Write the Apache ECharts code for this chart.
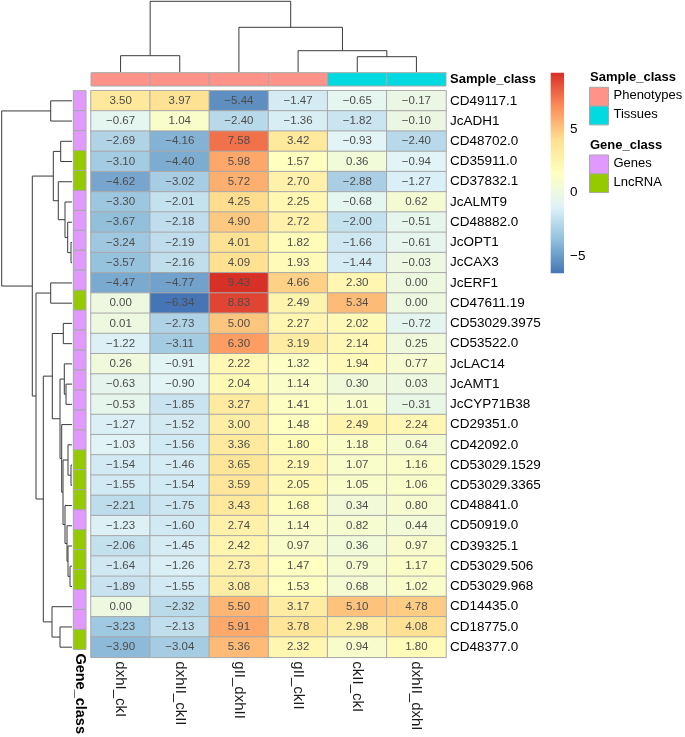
<!DOCTYPE html>
<html><head><meta charset="utf-8">
<script src="https://cdn.jsdelivr.net/npm/echarts@6/dist/echarts.min.js"></script>
<style>html,body{margin:0;padding:0;background:#fff}#c{width:685px;height:737px}</style>
</head><body><div id="c"></div>
<script>
// ---------- data ----------
const columns = ['dxhI_ckI','dxhII_ckII','gII_dxhII','gII_ckII','ckII_ckI','dxhII_dxhI'];
const sampleClass = ['Phenotypes','Phenotypes','Phenotypes','Phenotypes','Tissues','Tissues'];
const rows = ['CD49117.1','JcADH1','CD48702.0','CD35911.0','CD37832.1','JcALMT9','CD48882.0','JcOPT1','JcCAX3','JcERF1','CD47611.19','CD53029.3975','CD53522.0','JcLAC14','JcAMT1','JcCYP71B38','CD29351.0','CD42092.0','CD53029.1529','CD53029.3365','CD48841.0','CD50919.0','CD39325.1','CD53029.506','CD53029.968','CD14435.0','CD18775.0','CD48377.0'];
const geneClass = ['Genes','Genes','Genes','LncRNA','LncRNA','Genes','Genes','Genes','Genes','Genes','LncRNA','Genes','Genes','Genes','Genes','Genes','Genes','Genes','LncRNA','LncRNA','LncRNA','Genes','LncRNA','LncRNA','LncRNA','Genes','Genes','LncRNA'];

const dxhI_ckI   = [3.50,-0.67,-2.69,-3.10,-4.62,-3.30,-3.67,-3.24,-3.57,-4.47,0.00,0.01,-1.22,0.26,-0.63,-0.53,-1.27,-1.03,-1.54,-1.55,-2.21,-1.23,-2.06,-1.64,-1.89,0.00,-3.23,-3.90];
const dxhII_ckII = [3.97,1.04,-4.16,-4.40,-3.02,-2.01,-2.18,-2.19,-2.16,-4.77,-6.34,-2.73,-3.11,-0.91,-0.90,-1.85,-1.52,-1.56,-1.46,-1.54,-1.75,-1.60,-1.45,-1.26,-1.55,-2.32,-2.13,-3.04];
const gII_dxhII  = [-5.44,-2.40,7.58,5.98,5.72,4.25,4.90,4.01,4.09,9.43,8.83,5.00,6.30,2.22,2.04,3.27,3.00,3.36,3.65,3.59,3.43,2.74,2.42,2.73,3.08,5.50,5.91,5.36];
const gII_ckII   = [-1.47,-1.36,3.42,1.57,2.70,2.25,2.72,1.82,1.93,4.66,2.49,2.27,3.19,1.32,1.14,1.41,1.48,1.80,2.19,2.05,1.68,1.14,0.97,1.47,1.53,3.17,3.78,2.32];
const ckII_ckI   = [-0.65,-1.82,-0.93,0.36,-2.88,-0.68,-2.00,-1.66,-1.44,2.30,5.34,2.02,2.14,1.94,0.30,1.01,2.49,1.18,1.07,1.05,0.34,0.82,0.36,0.79,0.68,5.10,2.98,0.94];
const dxhII_dxhI = [-0.17,-0.10,-2.40,-0.94,-1.27,0.62,-0.51,-0.61,-0.03,0.00,0.00,-0.72,0.25,0.77,0.03,-0.31,2.24,0.64,1.16,1.06,0.80,0.44,0.97,1.17,1.02,4.78,4.08,1.80];

const colorTicks = [-5, 0, 5];
const scaleMin = -6.34, scaleMax = 9.43;

// dendrograms: [left, right, height]; numbers = leaves, 'mK' = merge K
const colMerges = [[0,1,16.3],[4,5,15.3],[3,'m1',21.3],[2,'m2',44.7],['m0','m3',70.7]];
const rowMerges = [
  [0,1,21.3],[2,3,11.3],[7,8,1],[6,'m2',4.3],[5,'m3',7],[4,'m4',13.7],['m1','m5',18.7],
  [9,10,21.3],[11,12,8.7],[14,15,6],[13,'m9',7.7],[18,19,1],[17,'m11',4],[23,24,2],
  [22,'m13',4],[21,'m14',5],[20,'m15',7],['m12','m16',9],[16,'m17',10.3],['m10','m18',12],
  ['m8','m19',19.7],[26,27,12],[25,'m21',20],['m20','m22',28.7],['m7','m23',36],
  ['m6','m24',39.7],['m0','m25',70.3]
];

// ---------- styles ----------
const heatColors = ['#4575B4','#91BFDB','#E0F3F8','#FFFFBF','#FEE090','#FC8D59','#D73027'];
const sampleColors = {Phenotypes:'#FF9289', Tissues:'#00DAE0'};
const geneColors = {Genes:'#E199FF', LncRNA:'#96CA00'};
const FONT = '"Liberation Sans", Arial, sans-serif';
const BORDER = '#A8A8A8';

const L = 91, R = 446, T = 90.7, B = 657.3;

const valueCols = [dxhI_ckI, dxhII_ckII, gII_dxhII, gII_ckII, ckII_ckI, dxhII_dxhI];
const heatData = [];
valueCols.forEach((col, ci) => col.forEach((v, ri) => heatData.push([ci, ri, v])));

function dendroItems(merges) {
  const pos = [], hgt = [];
  const get = (n) => typeof n === 'number' ? [n + 0.5, 0] : [pos[+n.slice(1)], hgt[+n.slice(1)]];
  return merges.map((m, k) => {
    const a = get(m[0]), b = get(m[1]);
    pos[k] = (a[0] + b[0]) / 2; hgt[k] = m[2];
    return [a[0], a[1], b[0], b[1], m[2]];
  });
}
const colDendro = dendroItems(colMerges);
const rowDendro = dendroItems(rowMerges);

function dendroRender(horizontalLeaves) {
  return function (params, api) {
    const pa = api.value(0), ha = api.value(1), pb = api.value(2), hb = api.value(3), h = api.value(4);
    const c = horizontalLeaves ? (p, hh) => api.coord([p, hh]) : (p, hh) => api.coord([hh, p]);
    return {type:'polyline', shape:{points:[c(pa,ha), c(pa,h), c(pb,h), c(pb,hb)]},
      style:{stroke:'#3a3a3a', lineWidth:1, fill:null}};
  };
}
function cellRender(colorOf) {
  return function (params, api) {
    const p = api.coord([api.value(0), api.value(1)]);
    const s = api.size([1, 1]);
    return {type:'rect', shape:{x:p[0]-s[0]/2, y:p[1]-s[1]/2, width:s[0], height:s[1]},
      style:{fill:colorOf(params.dataIndex), stroke:BORDER, lineWidth:1}};
  };
}

const chart = echarts.init(document.getElementById('c'), null, {renderer:'canvas'});
const hidden = {show:false};
const option = {
  animation:false,
  backgroundColor:'#fff',
  grid:[
    {left:L, top:T, width:R-L, height:B-T},
    {left:L, top:72.7, width:R-L, height:13.3},
    {left:73.3, top:T, width:12.7, height:B-T},
    {left:L, top:0, width:R-L, height:72},
    {left:0, top:T, width:72, height:B-T},
    {left:550.7, top:72.7, width:13.3, height:200.6}
  ],
  xAxis:[
    {type:'category', gridIndex:0, data:columns, position:'bottom', axisLine:hidden, axisTick:hidden, splitLine:hidden,
     axisLabel:{rotate:-90, margin:4, fontSize:15, fontFamily:FONT, color:'#1a1a1a', interval:0}},
    {type:'category', gridIndex:1, data:columns, show:false},
    {type:'category', gridIndex:2, data:['Gene_class'], position:'bottom', axisLine:hidden, axisTick:hidden,
     axisLabel:{rotate:-90, margin:4, fontSize:14.5, fontWeight:'bold', fontFamily:FONT, color:'#000'}},
    {type:'value', gridIndex:3, min:0, max:columns.length, show:false},
    {type:'value', gridIndex:4, min:0, max:72, inverse:true, show:false},
    {type:'value', gridIndex:5, min:0, max:1, show:false}
  ],
  yAxis:[
    {type:'category', gridIndex:0, data:rows, inverse:true, position:'right', axisLine:hidden, axisTick:hidden, splitLine:hidden,
     axisLabel:{margin:4, fontSize:13.5, fontFamily:FONT, color:'#000', interval:0}},
    {type:'category', gridIndex:1, data:['Sample_class'], position:'right', axisLine:hidden, axisTick:hidden,
     axisLabel:{margin:4, fontSize:13, fontWeight:'bold', fontFamily:FONT, color:'#000'}},
    {type:'category', gridIndex:2, data:rows, inverse:true, show:false},
    {type:'value', gridIndex:3, min:0, max:72, show:false},
    {type:'value', gridIndex:4, min:0, max:rows.length, inverse:true, show:false},
    {type:'value', gridIndex:5, min:scaleMin, max:scaleMax, position:'right', axisLine:hidden, splitLine:hidden,
     axisTick:hidden,
     axisLabel:{customValues:colorTicks, margin:6, fontSize:13.5, fontFamily:FONT, color:'#000',
       formatter:v => String(v).replace('-', '\u2212')}}
  ],
  visualMap:{type:'continuous', seriesIndex:0, show:false, min:scaleMin, max:scaleMax, inRange:{color:heatColors}},
  series:[
    {type:'heatmap', xAxisIndex:0, yAxisIndex:0, data:heatData, emphasis:{disabled:true},
     itemStyle:{borderColor:BORDER, borderWidth:1},
     label:{show:true, fontSize:11.5, fontFamily:FONT, color:'#4D4D4D',
       formatter:p => p.value[2].toFixed(2).replace('-', '\u2212')}},
    {type:'custom', xAxisIndex:1, yAxisIndex:1, data:columns.map((c,i)=>[i,0]),
     renderItem:cellRender(i => sampleColors[sampleClass[i]])},
    {type:'custom', xAxisIndex:2, yAxisIndex:2, data:rows.map((r,i)=>[0,i]),
     renderItem:cellRender(i => geneColors[geneClass[i]])},
    {type:'custom', xAxisIndex:3, yAxisIndex:3, data:colDendro, renderItem:dendroRender(true)},
    {type:'custom', xAxisIndex:4, yAxisIndex:4, data:rowDendro, renderItem:dendroRender(false)},
    {type:'custom', xAxisIndex:5, yAxisIndex:5, data:[[0,0]],
     renderItem:function(params, api){
       const p1 = api.coord([0, scaleMax]), p2 = api.coord([1, scaleMin]);
       const stops = heatColors.map((c,i)=>({offset:i/(heatColors.length-1), color:c}));
       return {type:'rect', shape:{x:p1[0], y:p1[1], width:p2[0]-p1[0], height:p2[1]-p1[1]},
         style:{fill:new echarts.graphic.LinearGradient(0,1,0,0,stops)}};
     }}
  ],
  graphic:[]
};

// legend for annotations
const legendBlocks = [
  {title:'Sample_class', titleY:77.3, items:Object.keys(sampleColors), colors:sampleColors, top:87.3},
  {title:'Gene_class', titleY:145, items:Object.keys(geneColors), colors:geneColors, top:155}
];
legendBlocks.forEach(b => {
  option.graphic.push({type:'text', style:{x:590, y:b.titleY, text:b.title, font:'bold 13px '+FONT, fill:'#000', verticalAlign:'middle'}});
  b.items.forEach((it, k) => {
    const y = b.top + k*18.8;
    option.graphic.push({type:'rect', shape:{x:589.5, y:y, width:19, height:18.8}, style:{fill:b.colors[it], stroke:BORDER, lineWidth:1}});
    option.graphic.push({type:'text', style:{x:613.5, y:y+8.5, text:it, font:'13px '+FONT, fill:'#000', verticalAlign:'middle'}});
  });
});

chart.setOption(option);
</script></body></html>
